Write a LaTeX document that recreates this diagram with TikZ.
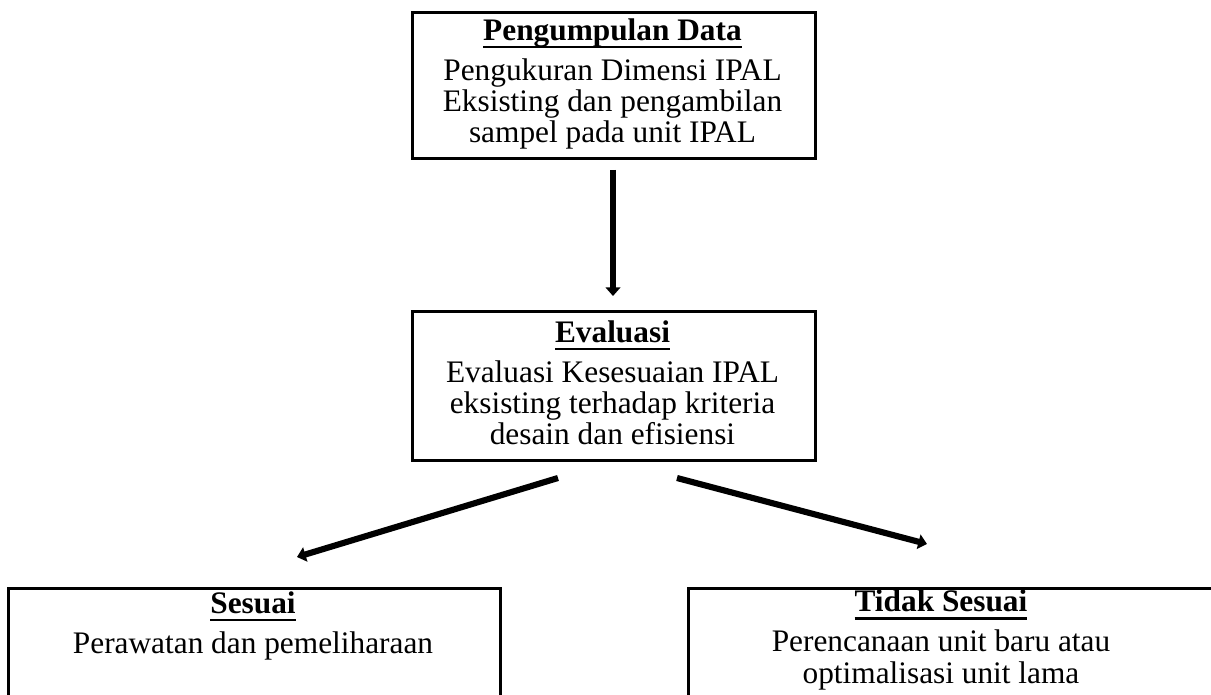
\documentclass[tikz,border=0pt]{standalone}
\usepackage{fontspec}
\setmainfont{Liberation Serif}
\usetikzlibrary{arrows.meta}
\tikzset{
  box/.style={draw, line width=2pt, inner sep=0pt, anchor=north west},
  txt/.style={align=center, inner sep=0pt, anchor=base, font=\fontsize{23.5}{23.5}\selectfont},
  flow/.style={line width=4.6pt, -{Triangle[width=11pt,length=6.5pt]}},
}
\newcommand\boxtitle[1]{\setbox0\hbox{\textbf{#1}}\rlap{\vrule width\wd0 height -4.2pt depth 5.9pt}\box0}
\begin{document}
\begin{tikzpicture}[x=0.75pt,y=-0.75pt]
\useasboundingbox (0,0) rectangle (1211,695);
\clip (0,0) rectangle (1211,695);
% boxes
\node[box, minimum width=403*0.75pt, minimum height=146*0.75pt] (b1) at (411,11) {};
\node[box, minimum width=403*0.75pt, minimum height=149*0.75pt] (b2) at (411,310) {};
\node[box, minimum width=492*0.75pt, minimum height=160*0.75pt] (b3) at (7,587) {};
\node[box, minimum width=600*0.75pt, minimum height=160*0.75pt] (b4) at (687,587) {};
% texts (anchored at the baseline of the last line)
\node[txt] (t1) at (612.5,143) {\boxtitle{Pengumpulan Data}\\[6.5pt]Pengukuran Dimensi IPAL\\Eksisting dan pengambilan\\sampel pada unit IPAL};
\node[txt] (t2) at (612.5,445) {\boxtitle{Evaluasi}\\[6.5pt]Evaluasi Kesesuaian IPAL\\eksisting terhadap kriteria\\desain dan efisiensi};
\node[txt] (t3) at (253,653) {\boxtitle{Sesuai}\\[6.5pt]Perawatan dan pemeliharaan};
\node[txt] (t4) at (941,683) {\boxtitle{Tidak Sesuai}\\[6.5pt]Perencanaan unit baru atau\\optimalisasi unit lama};
% arrow ends
\coordinate (a1s) at (613,170);
\coordinate (a1e) at (613,296);
\coordinate (a2s) at (558,478);
\coordinate (a2e) at (297,557);
\coordinate (a3s) at (677,478);
\coordinate (a3e) at (927,544);
\draw[flow] (a1s) -- (a1e);
\draw[flow] (a2s) -- (a2e);
\draw[flow] (a3s) -- (a3e);
\end{tikzpicture}
\end{document}
